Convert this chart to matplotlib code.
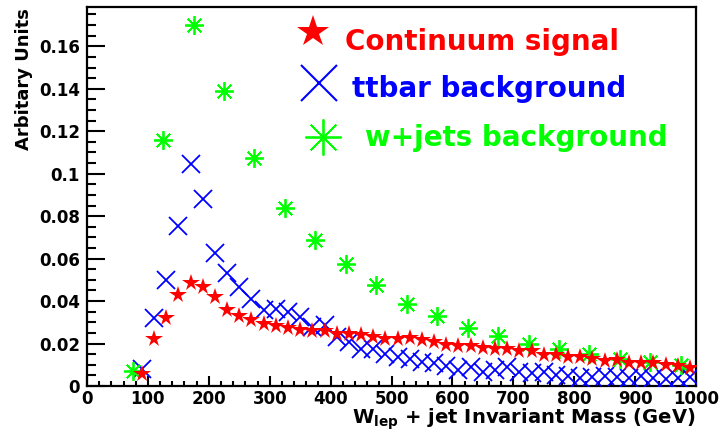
import matplotlib
matplotlib.use("Agg")
import matplotlib.pyplot as plt
from matplotlib.ticker import MultipleLocator, FormatStrFormatter
from matplotlib.lines import Line2D

# continuum signal, 20 GeV bins
sig_mass = [90, 110, 130, 150, 170, 190, 210, 230, 250, 270, 290, 310, 330, 350,
            370, 390, 410, 430, 450, 470, 490, 510, 530, 550, 570, 590, 610, 630,
            650, 670, 690, 710, 730, 750, 770, 790, 810, 830, 850, 870, 890, 910,
            930, 950, 970, 990]
sig_val = [0.0056, 0.022, 0.032, 0.043, 0.0485, 0.0466, 0.042, 0.036, 0.033, 0.031,
           0.029, 0.0283, 0.0275, 0.0266, 0.026, 0.0259, 0.0247, 0.0244, 0.024, 0.0231,
           0.022, 0.022, 0.0228, 0.0216, 0.0205, 0.0195, 0.019, 0.0187, 0.0181, 0.0173,
           0.0173, 0.0165, 0.0165, 0.0145, 0.0145, 0.0137, 0.0137, 0.0129, 0.0117, 0.0121,
           0.0109, 0.0106, 0.0109, 0.0101, 0.0093, 0.0085]

# ttbar background, 20 GeV bins
tt_mass = sig_mass
tt_val = [0.0082, 0.0318, 0.0501, 0.0752, 0.1047, 0.0879, 0.0627, 0.0534, 0.0464, 0.0412,
          0.0357, 0.0365, 0.0349, 0.0325, 0.0278, 0.0286, 0.0231, 0.0208, 0.0176, 0.0176,
          0.015, 0.0137, 0.0129, 0.0113, 0.0109, 0.0093, 0.0074, 0.009, 0.0066, 0.0074,
          0.009, 0.0066, 0.0059, 0.0066, 0.0051, 0.0045, 0.004, 0.0042, 0.0045, 0.0043,
          0.004, 0.0045, 0.0038, 0.0035, 0.0038, 0.0042]

# w+jets background, 50 GeV bins
wj_mass = [75, 125, 175, 225, 275, 325, 375, 425, 475, 525, 575, 625, 675, 725, 775,
           825, 875, 925, 975]
wj_val = [0.0071, 0.1157, 0.1698, 0.1389, 0.1075, 0.084, 0.0686, 0.0576, 0.0474, 0.0384,
          0.0328, 0.0274, 0.0234, 0.020, 0.0175, 0.0153, 0.0129, 0.0113, 0.0098]

labels = ["Continuum signal", "ttbar background", "w+jets background"]
RED, BLUE, GREEN = "#ff0000", "#0000ff", "#00ff00"
ASTER = (8, 2, 0)

plt.rcParams["font.family"] = "DejaVu Sans"
plt.rcParams["font.weight"] = "bold"
plt.rcParams["mathtext.fontset"] = "custom"
plt.rcParams["mathtext.bf"] = "DejaVu Sans:bold"
plt.rcParams["mathtext.rm"] = "DejaVu Sans:bold"

W, H = 719, 438
fig = plt.figure(figsize=(W / 100, H / 100), dpi=100)
ax = fig.add_axes([87 / W, 1 - 386 / H, (696 - 87) / W, (386 - 7) / H])

ax.plot(tt_mass, tt_val, ls="none", marker="x", ms=13.5, mew=1.3, color=BLUE, zorder=3)
ax.plot(wj_mass, wj_val, ls="none", marker=ASTER, ms=13.5, mew=1.3, color=GREEN, zorder=4)
ax.plot(sig_mass, sig_val, ls="none", marker="*", ms=13, mew=0, color=RED, zorder=5)

ax.set_xlim(0, 1000)
ax.set_ylim(0, 0.1785)
ax.xaxis.set_major_locator(MultipleLocator(100))
ax.xaxis.set_minor_locator(MultipleLocator(20))
ax.yaxis.set_major_locator(MultipleLocator(0.02))
ax.yaxis.set_minor_locator(MultipleLocator(0.005))
ax.yaxis.set_major_formatter(FormatStrFormatter("%g"))

for s in ax.spines.values():
    s.set_linewidth(1.6)
ax.tick_params(axis="both", which="both", direction="in", top=False, right=False,
               width=1.5, labelsize=12)
ax.tick_params(axis="x", which="major", length=7.5, pad=3)
ax.tick_params(axis="x", which="minor", length=3.8)
ax.tick_params(axis="y", which="major", length=13, pad=5)
ax.tick_params(axis="y", which="minor", length=6.5)

fig.text(695 / W, 1 - 424 / H, r"W$_{\mathbf{lep}}$ + jet Invariant Mass (GeV)",
         ha="right", va="baseline", fontsize=14, fontweight="bold")
fig.text(24 / W, 1 - 8 / H, "Arbitary Units", rotation=90, ha="center", va="top",
         fontsize=13, fontweight="bold")

# legend, drawn without a box
keys = [("*", 24, 0, RED, 313, 32), ("x", 26, 1.5, BLUE, 319, 83),
        (ASTER, 26, 1.3, GREEN, 323, 137)]
for m, ms, mew, c, x, y in keys:
    fig.add_artist(Line2D([x / W], [1 - y / H], transform=fig.transFigure, ls="none",
                          marker=m, ms=ms, mew=mew, color=c))
text_pos = [(345, 50), (352, 97), (365, 146)]
for lab, c, (x, y) in zip(labels, [RED, BLUE, GREEN], text_pos):
    fig.text(x / W, 1 - y / H, lab, color=c, fontsize=20, fontweight="bold",
             ha="left", va="baseline")

fig.savefig("out.png", dpi=100)
